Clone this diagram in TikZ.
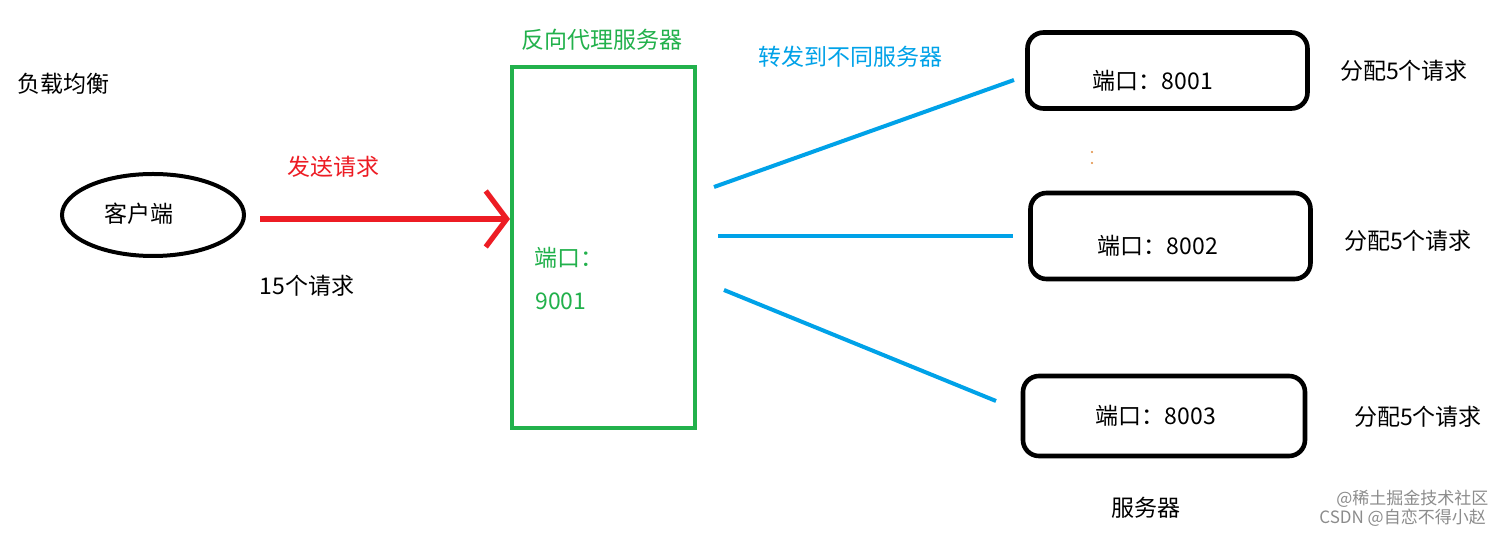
\documentclass[tikz,border=0pt]{standalone}
\usepackage{fontspec}
\setmainfont{Noto Sans CJK SC}
\usetikzlibrary{arrows.meta,shapes.geometric}
\definecolor{cred}{HTML}{ED1C24}
\definecolor{cgreen}{HTML}{22B14C}
\definecolor{cblue}{HTML}{00A2E8}
\definecolor{corange}{HTML}{E08A3C}
\begin{document}
\begin{tikzpicture}[x=0.5pt,y=-0.5pt,
  lbl/.style={font=\fontsize{11.5pt}{14pt}\selectfont, inner sep=0pt},
  srvbox/.style={draw=black, line width=2.3pt, rounded corners=8pt, minimum width=140pt, minimum height=38pt, inner sep=0pt},
  bluelink/.style={draw=cblue, line width=2pt},
  wm/.style={font=\fontsize{8.5pt}{10pt}\selectfont, text=black!45, inner sep=0pt}]
\useasboundingbox[fill=white] (0,0) rectangle (1512,533);

% title
\node[lbl, anchor=west] (title) at (17,84) {负载均衡};

% client
\node[draw=black, line width=2pt, shape=ellipse, minimum width=91pt, minimum height=41pt, inner sep=0pt] (client) at (153,215) {};
\node[lbl] (clienttxt) at (139,214) {客户端};
\node[lbl, text=cred] (send) at (333,167) {发送请求};
\node[lbl] (req15) at (307,286) {15个请求};

% proxy
\node[draw=cgreen, line width=2pt, minimum width=91.5pt, minimum height=180.5pt, inner sep=0pt] (proxy) at (603.5,247.5) {};
\node[lbl, text=cgreen] (proxytitle) at (602,40) {反向代理服务器};
\node[lbl, text=cgreen, anchor=west] (proxyport) at (534,258) {端口：};
\node[lbl, text=cgreen, anchor=west] (proxynum) at (535,301) {9001};

% client -> proxy
\coordinate (arrs) at (260,219);
\draw[draw=cred, line width=2.6pt, -{Straight Barb[length=10.5pt,width=28pt]}] (arrs) -- (proxy.west |- arrs);

% forwarding
\node[lbl, text=cblue] (fwd) at (850,57) {转发到不同服务器};
\coordinate (l1a) at (714,187); \coordinate (l1b) at (1014,80);
\coordinate (l2a) at (718,236); \coordinate (l2b) at (1013,236);
\coordinate (l3a) at (724,290); \coordinate (l3b) at (996,401);
\draw[bluelink] (l1a) -- (l1b);
\draw[bluelink] (l2a) -- (l2b);
\draw[bluelink] (l3a) -- (l3b);

% servers
\node[srvbox] (s1) at (1167.5,70.5) {};
\node[lbl] (s1t) at (1153,81) {端口：8001};
\node[srvbox, minimum height=43pt] (s2) at (1170.5,236) {};
\node[lbl] (s2t) at (1158,246) {端口：8002};
\node[srvbox, minimum width=141pt, minimum height=40pt] (s3) at (1164,416) {};
\node[lbl] (s3t) at (1156,416) {端口：8003};

\node[lbl] (a1) at (1404,71) {分配5个请求};
\node[lbl] (a2) at (1408,241) {分配5个请求};
\node[lbl] (a3) at (1418,417) {分配5个请求};

\node[lbl] (srvlabel) at (1146,508) {服务器};

% stray dots
\fill[corange] (1092,152) circle[radius=1.2];
\fill[corange] (1092,163) circle[radius=1.2];

% watermark
\node[wm, anchor=west] (wm1) at (1336,499) {@稀土掘金技术社区};
\node[wm, anchor=west] (wm2) at (1319,518) {CSDN @自恋不得小赵};
\end{tikzpicture}
\end{document}
